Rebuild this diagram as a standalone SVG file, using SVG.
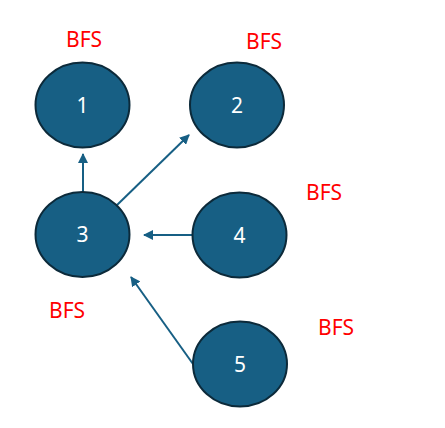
<svg xmlns="http://www.w3.org/2000/svg" width="445" height="428" viewBox="0 0 445 428">
<style>
.node ellipse{fill:#175f84;stroke:#0c2a3a;stroke-width:2}
.node text{fill:#ffffff;font-family:"Noto Sans","Open Sans",sans-serif;font-size:21px;text-anchor:middle}
.lbl{fill:#ff0000;font-family:"Noto Sans","Open Sans",sans-serif;font-size:21px}
.edge{stroke:#175f84;stroke-width:2;fill:none;marker-end:url(#ah)}
</style>
<defs>
<marker id="ah" viewBox="0 0 10 10" refX="9" refY="5" markerWidth="5" markerHeight="5" orient="auto" markerUnits="strokeWidth">
<path d="M0,0 L10,5 L0,10 z" fill="#175f84"/>
</marker>
</defs>
<rect width="445" height="428" fill="#ffffff"/>
<g id="edges">
<line class="edge" x1="83" y1="192" x2="83" y2="154"/>
<line class="edge" x1="116" y1="206" x2="189" y2="135"/>
<line class="edge" x1="192" y1="235" x2="144" y2="235"/>
<line class="edge" x1="193" y1="364" x2="131" y2="277"/>
</g>
<g id="node1" class="node"><ellipse cx="82.5" cy="105" rx="47" ry="42.5"/><text x="82.5" y="112.5">1</text></g>
<g id="node2" class="node"><ellipse cx="237" cy="105" rx="47" ry="42.5"/><text x="237" y="112.5">2</text></g>
<g id="node3" class="node"><ellipse cx="82.5" cy="234.5" rx="47" ry="42.5"/><text x="82.5" y="242">3</text></g>
<g id="node4" class="node"><ellipse cx="239.5" cy="235" rx="47" ry="42.5"/><text x="239.5" y="242.5">4</text></g>
<g id="node5" class="node"><ellipse cx="240" cy="364" rx="47" ry="42.5"/><text x="240" y="371.5">5</text></g>
<g id="labels">
<text class="lbl" x="66" y="47">BFS</text>
<text class="lbl" x="246" y="49">BFS</text>
<text class="lbl" x="306" y="200">BFS</text>
<text class="lbl" x="49" y="318">BFS</text>
<text class="lbl" x="318" y="335">BFS</text>
</g>
</svg>
